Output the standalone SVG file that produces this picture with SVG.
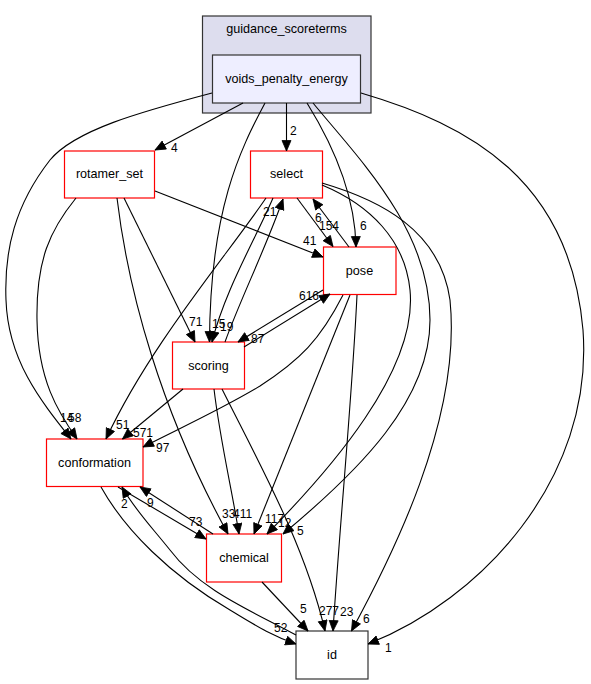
<svg xmlns="http://www.w3.org/2000/svg" width="591" height="684" viewBox="0 0 591 684">
<style>
.n{font-family:"Liberation Sans",Arial,sans-serif;font-size:12.6px;fill:#000;text-anchor:middle}
.l{font-family:"Liberation Sans",Arial,sans-serif;font-size:12px;fill:#000}
.e path{fill:none;stroke:#000;stroke-width:1.1;marker-end:url(#a)}
.r{fill:#fff;stroke:#ff0000;stroke-width:1.2}
.k{fill:#fff;stroke:#333;stroke-width:1.2}
</style>
<defs>
<marker id="a" markerUnits="userSpaceOnUse" markerWidth="14" markerHeight="12" refX="11" refY="5" orient="auto" viewBox="0 0 14 12">
<path d="M0.5,0.5 L11,5 L0.5,9.5 z" fill="#000" stroke="#000" stroke-width="0.8"/>
</marker>
</defs>
<rect width="591" height="684" fill="#fff"/>
<g id="cluster_guidance_scoreterms">
<rect x="202.5" y="16" width="168.5" height="97" fill="#ddddee" stroke="#333" stroke-width="1.2"/>
<text class="n" x="286.5" y="33">guidance_scoreterms</text>
</g>
<g id="node_voids_penalty_energy">
<rect x="212.5" y="55" width="148" height="48" fill="#eeeeff" stroke="#333" stroke-width="1.2"/>
<text class="n" x="286.5" y="83">voids_penalty_energy</text>
</g>
<g id="node_rotamer_set">
<rect class="r" x="64.5" y="151" width="90" height="47"/>
<text class="n" x="109.5" y="178">rotamer_set</text>
</g>
<g id="node_select">
<rect class="r" x="250.5" y="151" width="72" height="47"/>
<text class="n" x="286.5" y="178">select</text>
</g>
<g id="node_pose">
<rect class="r" x="323.5" y="247" width="72.5" height="47.5"/>
<text class="n" x="359.5" y="275">pose</text>
</g>
<g id="node_scoring">
<rect class="r" x="172.5" y="342" width="72" height="47"/>
<text class="n" x="208.5" y="370">scoring</text>
</g>
<g id="node_conformation">
<rect class="r" x="46.5" y="439" width="96.5" height="47.5"/>
<text class="n" x="94.5" y="467">conformation</text>
</g>
<g id="node_chemical">
<rect class="r" x="206.5" y="534" width="75" height="48"/>
<text class="n" x="244" y="562">chemical</text>
</g>
<g id="node_id">
<rect class="k" x="296" y="631" width="72" height="48"/>
<text class="n" x="332" y="659">id</text>
</g>
<g id="connectors" class="e">
<path d="M212,93 C140,112 75,130 50,160 C15,205 4,250 6,300 C8,360 40,400 71,439"/>
<path d="M243,103 L155,150"/>
<path d="M265,103 C240,150 210,210 209.5,342"/>
<path d="M286.5,103 L286.5,151"/>
<path d="M307,103 C330,140 355,190 356,247"/>
<path d="M313,103 C360,160 430,230 430,320 C430,400 360,470 283,534"/>
<path d="M361,93 C470,125 570,180 583,330 C594,480 480,600 368,644"/>
<path d="M76,198 C50,230 36,260 37,320 C38,380 58,412 77,439"/>
<path d="M155,191 L323,257"/>
<path d="M124,198 L195,342"/>
<path d="M117,198 C128,290 160,410 228,534"/>
<path d="M297,198 L333,246.5"/>
<path d="M349,247 L313,199"/>
<path d="M266,198 C225,258 150,345 106,439"/>
<path d="M273,198 C255,240 225,290 212,342"/>
<path d="M225,342 C240,300 265,250 283,199"/>
<path d="M322,185 C370,205 405,240 410,290 C418,370 330,470 267,534"/>
<path d="M322,183 C380,200 440,230 450,300 C462,420 390,560 351.5,631"/>
<path d="M323,290 L238,342"/>
<path d="M244,347 L330,294"/>
<path d="M343,295 C320,340 300,360 260,386 C220,410 180,428 143,447"/>
<path d="M350,295 L254,534"/>
<path d="M357,295 C352,400 340,520 333,631"/>
<path d="M183,389 L122.5,439"/>
<path d="M214,389 C220,440 232,490 239,534"/>
<path d="M222,389 C260,465 305,545 325,631"/>
<path d="M101,487 C125,530 170,575 230,610 C255,625 270,635 296,644"/>
<path d="M296,635 C250,610 200,590 170,550 C150,525 135,510 122,487"/>
<path d="M118,487 L206,539"/>
<path d="M213,534 L140,487"/>
<path d="M262,582 L308,631"/>
</g>
<g id="labels">
<text class="l" x="171" y="152">4</text>
<text class="l" x="290" y="135">2</text>
<text class="l" x="263" y="216">21</text>
<text class="l" x="315" y="222">6</text>
<text class="l" x="319" y="230">154</text>
<text class="l" x="360" y="230">6</text>
<text class="l" x="303" y="245">41</text>
<text class="l" x="189" y="326">71</text>
<text class="l" x="212" y="328">15</text>
<text class="l" x="220" y="331">19</text>
<text class="l" x="251" y="343">87</text>
<text class="l" x="299" y="300">616</text>
<text class="l" x="60" y="422">14</text>
<text class="l" x="68" y="422">58</text>
<text class="l" x="116" y="429">51</text>
<text class="l" x="133" y="437">571</text>
<text class="l" x="156" y="452">97</text>
<text class="l" x="121" y="508">2</text>
<text class="l" x="147" y="507">9</text>
<text class="l" x="189" y="526">73</text>
<text class="l" x="222" y="518">33</text>
<text class="l" x="233" y="518">411</text>
<text class="l" x="265" y="523">117</text>
<text class="l" x="278" y="527">12</text>
<text class="l" x="297" y="535">5</text>
<text class="l" x="300" y="613">5</text>
<text class="l" x="319" y="615">277</text>
<text class="l" x="340" y="616">23</text>
<text class="l" x="363" y="623">6</text>
<text class="l" x="274" y="632">52</text>
<text class="l" x="385" y="652">1</text>
</g>
</svg>
